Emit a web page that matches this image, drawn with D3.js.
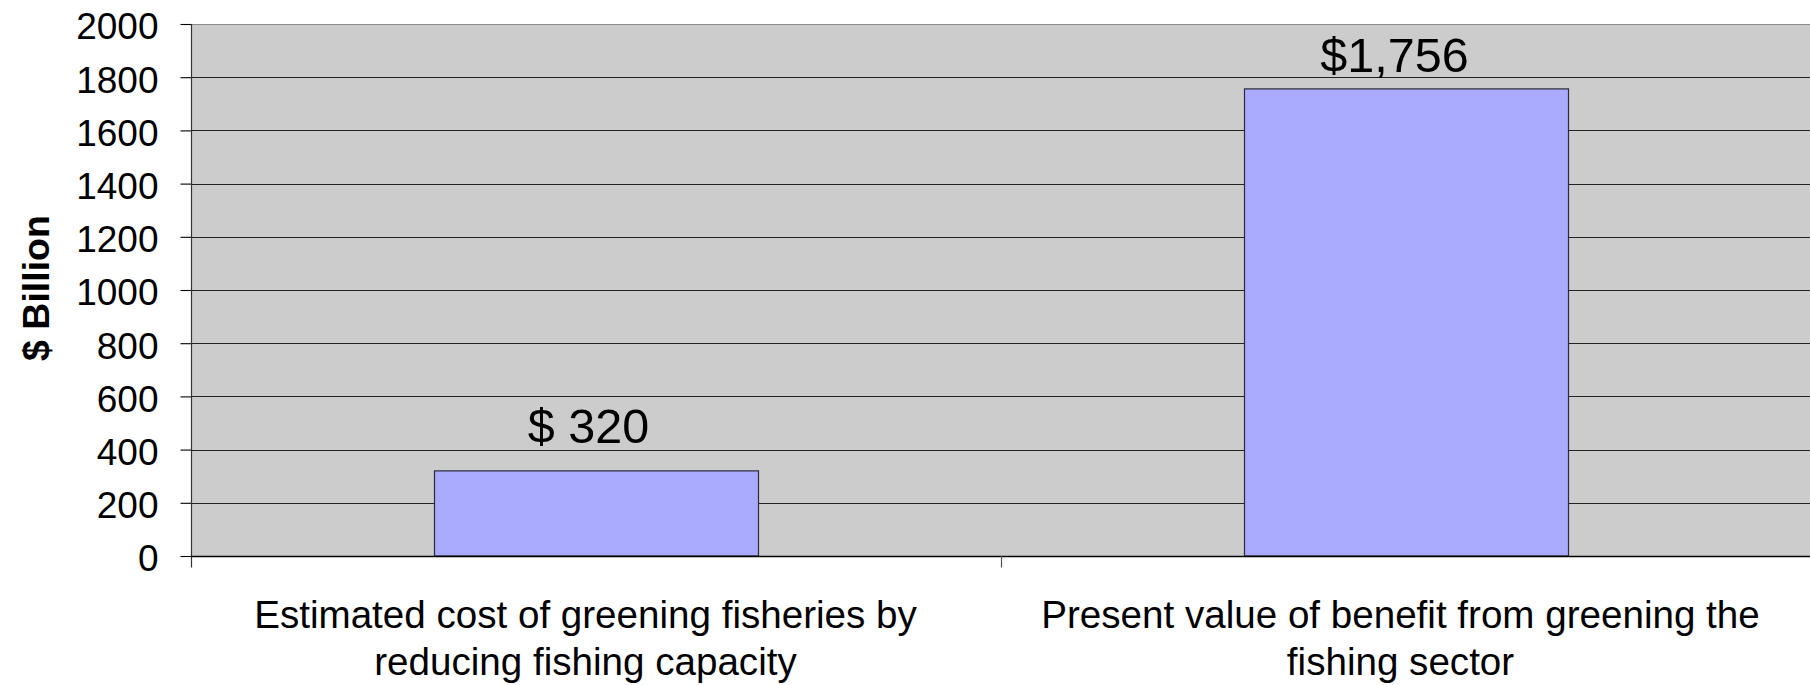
<!DOCTYPE html>
<html>
<head>
<meta charset="utf-8">
<script src="https://cdn.jsdelivr.net/npm/d3@7"></script>
<style>
  html, body { margin: 0; padding: 0; background: #ffffff; }
  svg { display: block; font-family: "Liberation Sans", Arial, sans-serif; }
</style>
</head>
<body>
<svg id="chart" width="1810" height="685"></svg>
<script>
// Greening fisheries: cost vs. benefit ($ billion)
const categories = [
  ["Estimated cost of greening fisheries by", "reducing fishing capacity"],
  ["Present value of benefit from greening the", "fishing sector"]
];
const values = [320, 1756];
const valueLabels = ["$ 320", "$1,756"];
const yTicks = [0, 200, 400, 600, 800, 1000, 1200, 1400, 1600, 1800, 2000];
const yTitle = "$ Billion";

const svg = d3.select("#chart");
const plot = { left: 191.5, right: 1811.5, top: 24, bottom: 556 };

const x = d3.scaleBand()
  .domain(d3.range(categories.length))
  .range([plot.left, plot.right])
  .padding(0);

const y = d3.scaleLinear()
  .domain([0, 2000])
  .range([plot.bottom, plot.top]);

// plot background
svg.append("rect")
  .attr("x", plot.left).attr("y", plot.top)
  .attr("width", plot.right - plot.left)
  .attr("height", plot.bottom - plot.top)
  .attr("fill", "#cccccc");

// top border of plot area
svg.append("line")
  .attr("x1", plot.left).attr("x2", plot.right)
  .attr("y1", plot.top + 0.5).attr("y2", plot.top + 0.5)
  .attr("stroke", "#8a8a8a").attr("stroke-width", 1.2);

// horizontal gridlines
svg.append("g")
  .selectAll("line")
  .data(yTicks.filter(d => d > 0 && d < 2000))
  .join("line")
  .attr("x1", plot.left).attr("x2", plot.right)
  .attr("y1", d => Math.round(y(d)) + 0.5)
  .attr("y2", d => Math.round(y(d)) + 0.5)
  .attr("stroke", "#222").attr("stroke-width", 1.1);

// bars
const barFrac = 0.4;
svg.append("g")
  .selectAll("rect")
  .data(values)
  .join("rect")
  .attr("x", (d, i) => x(i) + x.bandwidth() * (1 - barFrac) / 2)
  .attr("width", x.bandwidth() * barFrac)
  .attr("y", d => y(d))
  .attr("height", d => y(0) - y(d))
  .attr("fill", "#aaaaff")
  .attr("stroke", "#2a2a3a")
  .attr("stroke-width", 1.2);

// value labels
const labelNudge = [{ dx: -8, dy: -28 }, { dx: -12, dy: -17 }];
svg.append("g")
  .selectAll("text")
  .data(values)
  .join("text")
  .attr("x", (d, i) => x(i) + x.bandwidth() / 2 + labelNudge[i].dx)
  .attr("y", (d, i) => y(d) + labelNudge[i].dy)
  .attr("text-anchor", "middle")
  .attr("font-size", 48.5)
  .attr("fill", "#000")
  .text((d, i) => valueLabels[i]);

// y axis
const yAxis = d3.axisLeft(y)
  .tickValues(yTicks)
  .tickSize(11)
  .tickPadding(22)
  .tickFormat(d3.format("d"));
const gy = svg.append("g")
  .attr("transform", `translate(${plot.left},0)`)
  .call(yAxis);
gy.select(".domain").remove();
gy.selectAll(".tick line").attr("stroke", "#000").attr("stroke-width", 1.1);
gy.selectAll(".tick text")
  .attr("font-size", 37)
  .attr("font-family", "Liberation Sans, Arial, sans-serif")
  .attr("fill", "#000")
  .attr("dy", "0.4em");
svg.append("line")
  .attr("x1", plot.left).attr("x2", plot.left)
  .attr("y1", plot.top).attr("y2", plot.bottom + 11.5)
  .attr("stroke", "#333").attr("stroke-width", 1.2);

// x axis baseline and category boundary ticks
svg.append("line")
  .attr("x1", plot.left).attr("x2", plot.right)
  .attr("y1", plot.bottom + 0.5).attr("y2", plot.bottom + 0.5)
  .attr("stroke", "#000").attr("stroke-width", 1.4);
svg.append("g")
  .selectAll("line")
  .data(d3.range(1, categories.length + 1))
  .join("line")
  .attr("x1", i => x(i - 1) + x.bandwidth())
  .attr("x2", i => x(i - 1) + x.bandwidth())
  .attr("y1", plot.bottom).attr("y2", plot.bottom + 11.5)
  .attr("stroke", "#555").attr("stroke-width", 1.2);

// category labels (two lines each)
const catOffsets = [-11, -6];
const cats = svg.append("g")
  .selectAll("text")
  .data(categories)
  .join("text")
  .attr("text-anchor", "middle")
  .attr("font-size", 38.6)
  .attr("fill", "#000")
  .attr("transform", (d, i) => `translate(${x(i) + x.bandwidth() / 2 + catOffsets[i]},628)`);
cats.selectAll("tspan")
  .data(d => d)
  .join("tspan")
  .attr("x", 0)
  .attr("y", (d, j) => j * 47)
  .text(d => d);

// y axis title
svg.append("text")
  .attr("transform", "translate(49,288) rotate(-90)")
  .attr("text-anchor", "middle")
  .attr("font-size", 37.5)
  .attr("font-weight", "bold")
  .attr("fill", "#000")
  .text(yTitle);
</script>
</body>
</html>
